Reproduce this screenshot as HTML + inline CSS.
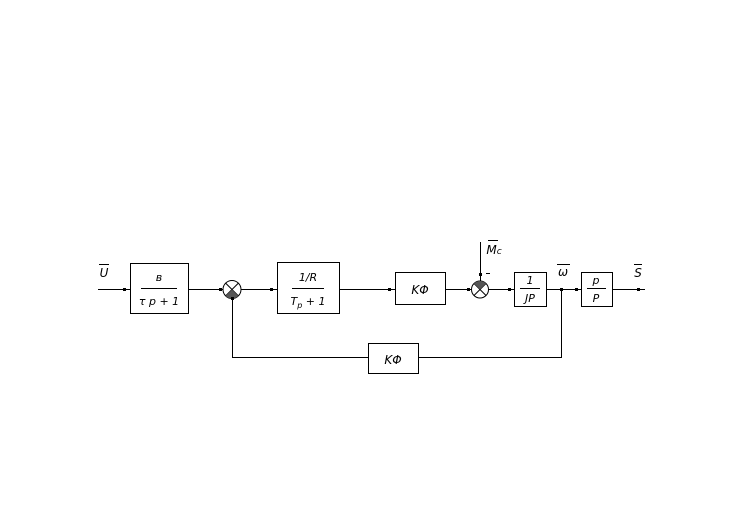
<!DOCTYPE html>
<html><head><meta charset="utf-8"><style>
html,body{margin:0;padding:0;background:#fff;}
svg{display:block}
text{font-family:"DejaVu Sans","Liberation Sans",sans-serif;font-style:italic;fill:#000}
</style></head><body>
<svg width="742" height="519" viewBox="0 0 742 519" xmlns="http://www.w3.org/2000/svg">
<g stroke="#000" stroke-width="1" fill="none">
<line x1="98" y1="289.5" x2="130" y2="289.5"/>
<line x1="188" y1="289.5" x2="223" y2="289.5"/>
<line x1="241" y1="289.5" x2="277" y2="289.5"/>
<line x1="339" y1="289.5" x2="395" y2="289.5"/>
<line x1="445" y1="289.5" x2="472" y2="289.5"/>
<line x1="488" y1="289.5" x2="514" y2="289.5"/>
<line x1="546" y1="289.5" x2="581" y2="289.5"/>
<line x1="612" y1="289.5" x2="645" y2="289.5"/>
<rect x="130.5" y="263.5" width="58" height="50"/>
<rect x="277.5" y="262.5" width="62" height="51"/>
<rect x="395.5" y="272.5" width="50" height="32"/>
<rect x="514.5" y="272.5" width="32" height="34"/>
<rect x="581.5" y="272.5" width="31" height="34"/>
<rect x="368.5" y="343.5" width="50" height="30"/>
<polyline points="561.5,289 561.5,357.5 418,357.5"/>
<polyline points="368,357.5 232.5,357.5 232.5,298"/>
<line x1="480.5" y1="242" x2="480.5" y2="281"/>
<circle cx="232" cy="289.5" r="9"/>
<line x1="225.6" y1="283.1" x2="238.4" y2="295.9"/>
<line x1="238.4" y1="283.1" x2="225.6" y2="295.9"/>
<circle cx="480" cy="289.5" r="8.5"/>
<line x1="474" y1="283.5" x2="486" y2="295.5"/>
<line x1="486" y1="283.5" x2="474" y2="295.5"/>
<line x1="99" y1="264.5" x2="109" y2="264.5"/>
<line x1="488" y1="240.5" x2="498" y2="240.5"/>
<line x1="557" y1="264.5" x2="570" y2="264.5"/>
<line x1="634" y1="264.5" x2="642" y2="264.5"/>
<line x1="141" y1="288.5" x2="177" y2="288.5"/>
<line x1="292" y1="288.5" x2="324" y2="288.5"/>
<line x1="520" y1="288.5" x2="540" y2="288.5"/>
<line x1="587" y1="288.5" x2="606" y2="288.5"/>
<line x1="486" y1="273.5" x2="490" y2="273.5"/>
</g>
<path d="M232,289.5 L238.4,295.9 A9,9 0 0 1 225.6,295.9 Z" fill="#555"/>
<path d="M480,289.5 L474,283.5 A8.5,8.5 0 0 1 486,283.5 Z" fill="#555"/>
<g fill="#000">
<rect x="123" y="288" width="3" height="3"/><rect x="219" y="288" width="3" height="3"/>
<rect x="270" y="288" width="3" height="3"/><rect x="388" y="288" width="3" height="3"/>
<rect x="467" y="288" width="3" height="3"/><rect x="508" y="288" width="3" height="3"/>
<rect x="560" y="288" width="3" height="3"/><rect x="575" y="288" width="3" height="3"/>
<rect x="637" y="288" width="3" height="3"/><rect x="231" y="297" width="3" height="3"/>
<rect x="479" y="273" width="3" height="3"/>
</g>
<g font-size="12" text-anchor="middle">
<text x="104" y="277">U</text>
<text x="159" y="281" font-size="11">в</text>
<text x="159" y="305" font-size="11">τ p + 1</text>
<text x="308" y="281" font-size="11">1/R</text>
<text x="308" y="305" font-size="11">T<tspan font-size="8" dy="3">p</tspan><tspan dy="-3"> + 1</tspan></text>
<text x="420" y="294">KΦ</text>
<text x="393" y="364">KΦ</text>
<text x="494" y="254">M<tspan font-size="9">c</tspan></text>
<text x="530" y="284" font-size="11">1</text>
<text x="530" y="302" font-size="11">JP</text>
<text x="596" y="284" font-size="11">p</text>
<text x="596" y="302" font-size="11">P</text>
<text x="563" y="276" font-style="normal">ω</text>
<text x="638" y="277">S</text>
</g>
</svg>
</body></html>
